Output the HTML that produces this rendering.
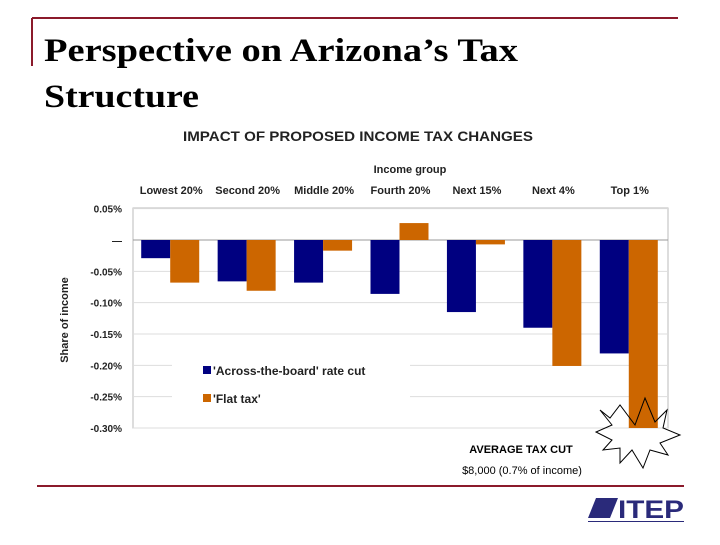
<!DOCTYPE html>
<html><head><meta charset="utf-8"><style>
body{margin:0;width:720px;height:540px;background:#fff;overflow:hidden;font-family:"Liberation Sans",sans-serif}
</style></head><body>
<svg width="720" height="540" xmlns="http://www.w3.org/2000/svg">
<line x1="32" y1="18" x2="678" y2="18" stroke="#8b1a2b" stroke-width="2"/>
<line x1="32" y1="18" x2="32" y2="66" stroke="#8b1a2b" stroke-width="2"/>
<text x="44" y="61" font-family="Liberation Serif" font-weight="bold" font-size="33" textLength="474" lengthAdjust="spacingAndGlyphs">Perspective on Arizona’s Tax</text>
<text x="44" y="107" font-family="Liberation Serif" font-weight="bold" font-size="33" textLength="155" lengthAdjust="spacingAndGlyphs">Structure</text>
<text x="183" y="141" font-size="14" font-weight="bold" fill="#222" textLength="350" lengthAdjust="spacingAndGlyphs">IMPACT OF PROPOSED INCOME TAX CHANGES</text>
<text x="410" y="173" font-size="11" font-weight="bold" fill="#222" text-anchor="middle">Income group</text>
<text transform="translate(68,320) rotate(-90)" font-size="11" font-weight="bold" fill="#222" text-anchor="middle">Share of income</text>
<rect x="133" y="208" width="535" height="220" fill="none" stroke="#bbb"/>
<g id="grid"></g><g id="bars"></g>
<rect x="172" y="354" width="238" height="50" fill="#fff"/>
<rect x="203" y="366" width="8" height="8" fill="#000080"/>
<text x="213" y="375" font-size="12" font-weight="bold" fill="#222">'Across-the-board' rate cut</text>
<rect x="203" y="394" width="8" height="8" fill="#cc6600"/>
<text x="213" y="403" font-size="12" font-weight="bold" fill="#222">'Flat tax'</text>
<polygon points="600,410 610,418 620,405 635,425 645,398 655,422 667,410 663,428 680,435 660,443 668,455 650,450 643,468 632,450 620,463 620,448 603,450 612,440 596,432 612,425" fill="none" stroke="#000"/>
<text x="521" y="453" font-size="11" font-weight="bold" text-anchor="middle">AVERAGE TAX CUT</text>
<text x="522" y="474" font-size="11" text-anchor="middle">$8,000 (0.7% of income)</text>
<line x1="37" y1="486" x2="684" y2="486" stroke="#8b1a2b" stroke-width="2"/>
<g>
<polygon points="588,518 596,498 618,498 610,518" fill="#2a2a7a"/>
<text x="618" y="518" font-size="25" font-weight="bold" fill="#2a2a7a" textLength="66" lengthAdjust="spacingAndGlyphs">ITEP</text>
<rect x="588" y="521" width="96" height="1" fill="#2a2a7a"/>
</g>
</svg>
<script>
const categories=["Lowest 20%","Second 20%","Middle 20%","Fourth 20%","Next 15%","Next 4%","Top 1%"];
const rateCut=[-0.029,-0.066,-0.068,-0.086,-0.115,-0.140,-0.181];
const flatTax=[-0.068,-0.081,-0.017,0.027,-0.007,-0.201,-0.30];
const tickValues=[0.05,0,-0.05,-0.10,-0.15,-0.20,-0.25,-0.30];
const tickLabels=["0.05%","—","-0.05%","-0.10%","-0.15%","-0.20%","-0.25%","-0.30%"];
const NS="http://www.w3.org/2000/svg";
const X0=133,X1=668,Y0=240,PX=626.7;
const y=v=>Y0-v*PX;
const gw=(X1-X0)/categories.length;
const grid=document.getElementById('grid'),bars=document.getElementById('bars'),svg=document.querySelector('svg');
tickValues.forEach((v,i)=>{
 const l=document.createElementNS(NS,'line');
 l.setAttribute('x1',X0);l.setAttribute('x2',X1);l.setAttribute('y1',y(v));l.setAttribute('y2',y(v));
 l.setAttribute('stroke',v===0?'#999':'#ddd');
 
 
 grid.appendChild(l);
 const t=document.createElementNS(NS,'text');
 t.setAttribute('x',122);t.setAttribute('y',y(v)+4);t.setAttribute('text-anchor','end');
 t.setAttribute('font-size','10');t.setAttribute('font-weight','bold');t.setAttribute('fill','#222');
 t.textContent=tickLabels[i];
 
 
 svg.appendChild(t);
});
categories.forEach((c,i)=>{
 const cx=X0+gw*(i+0.5);
 const t=document.createElementNS(NS,'text');
 t.setAttribute('x',cx);t.setAttribute('y',194);t.setAttribute('text-anchor','middle');
 t.setAttribute('font-size','11');t.setAttribute('font-weight','bold');t.setAttribute('fill','#222');
 t.textContent=c;
 
 
 svg.appendChild(t);
 [[rateCut[i],'#000080',cx-30,'bar-rate-cut'],[flatTax[i],'#cc6600',cx-1,'bar-flat-tax']].forEach(([v,col,x,n])=>{
  const r=document.createElementNS(NS,'rect');
  r.setAttribute('x',x);r.setAttribute('width',29);
  r.setAttribute('y',Math.min(y(v),Y0));r.setAttribute('height',Math.abs(y(v)-Y0));
  r.setAttribute('fill',col);
  
  
  bars.appendChild(r);
 });
});
</script>
</body></html>
